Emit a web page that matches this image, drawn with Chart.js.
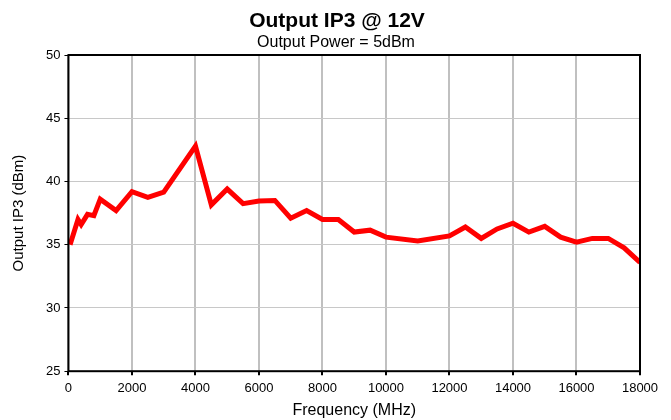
<!DOCTYPE html>
<html>
<head>
<meta charset="utf-8">
<script src="https://cdn.jsdelivr.net/npm/chart.js@4"></script>
<style>
  html, body { margin: 0; padding: 0; background: #fff; }
</style>
</head>
<body>
<canvas id="grafico" width="671" height="420"></canvas>
<script>
// Datos
const frecuencias = [50, 300, 400, 600, 800, 1000, 1500, 2000, 2500, 3000, 4000, 4500, 5000, 5500, 6000, 6500, 7000, 7500, 8000, 8500, 9000, 9500, 10000, 11000, 12000, 12500, 13000, 13500, 14000, 14500, 15000, 15500, 16000, 16500, 17000, 17500, 18000];
const ip3 = [35.0, 37.0, 36.6, 37.4, 37.3, 38.6, 37.7, 39.2, 38.75, 39.15, 42.8, 38.15, 39.4, 38.25, 38.45, 38.5, 37.1, 37.7, 37.0, 37.0, 36.0, 36.15, 35.6, 35.3, 35.7, 36.4, 35.5, 36.25, 36.7, 36.0, 36.45, 35.6, 35.2, 35.5, 35.5, 34.75, 33.6];

const titulo = "Output IP3 @ 12V";
const subtitulo = "Output Power = 5dBm";

const fuente = "Liberation Sans, Arial, sans-serif";

// Borde negro alrededor del área de trazado y títulos
const bordeArea = {
    id: "bordeArea",
    afterDraw(chart) {
        const { ctx, chartArea: a } = chart;
        ctx.save();
        ctx.strokeStyle = "#000";
        ctx.lineWidth = 2;
        ctx.strokeRect(a.left, a.top, a.right - a.left, a.bottom - a.top);

        ctx.fillStyle = "#000";
        ctx.textAlign = "center";
        ctx.textBaseline = "alphabetic";
        ctx.font = "bold 21px " + fuente;
        ctx.fillText(titulo, 337, 27);
        ctx.font = "16px " + fuente;
        ctx.fillText(subtitulo, 336, 46.5);
        ctx.restore();
    }
};

const ctx = document.getElementById("grafico").getContext("2d");
new Chart(ctx, {
    type: "line",
    data: {
        datasets: [{
            data: frecuencias.map((f, i) => ({ x: f, y: ip3[i] })),
            borderColor: "#ff0000",
            borderWidth: 5,
            pointRadius: 0,
            tension: 0,
            fill: false
        }]
    },
    options: {
        responsive: false,
        animation: false,
        layout: { padding: { left: 10, right: 31, top: 55, bottom: 0 } },
        plugins: {
            legend: { display: false },
            tooltip: { enabled: false },
            title: { display: false }
        },
        scales: {
            x: {
                type: "linear",
                min: 0,
                max: 18000,
                ticks: {
                    stepSize: 2000,
                    color: "#000",
                    font: { family: fuente, size: 13 },
                    maxRotation: 0,
                    padding: 5,
                    callback: v => String(v)
                },
                grid: {
                    color: "#c0c0c0",
                    lineWidth: 2,
                    drawTicks: true,
                    tickLength: 4,
                    tickColor: "#000"
                },
                border: { display: false },
                title: {
                    display: true,
                    text: "Frequency (MHz)",
                    color: "#000",
                    font: { family: fuente, size: 16 },
                    padding: { top: 0, bottom: 0 }
                }
            },
            y: {
                min: 25,
                max: 50,
                ticks: {
                    stepSize: 5,
                    color: "#000",
                    font: { family: fuente, size: 13 },
                    padding: 4,
                    callback: v => String(v)
                },
                grid: {
                    color: "#c8c8c8",
                    lineWidth: 1,
                    tickLength: 4,
                    tickColor: "#000"
                },
                border: { display: false },
                title: {
                    display: true,
                    text: "Output IP3 (dBm)",
                    color: "#000",
                    font: { family: fuente, size: 15 },
                    padding: { top: 0, bottom: 14 }
                }
            }
        }
    },
    plugins: [bordeArea]
});
</script>
</body>
</html>
